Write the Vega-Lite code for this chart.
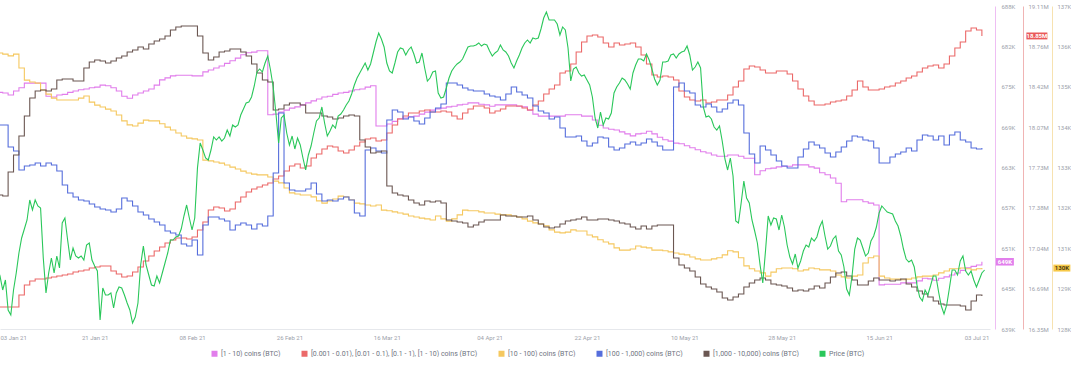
{
  "$schema": "https://vega.github.io/schema/vega-lite/v6.json",
  "width": 990,
  "height": 323,
  "padding": {"left": 0, "top": 3, "right": 0, "bottom": 0},
  "autosize": {"type": "pad"},
  "background": "#ffffff",
  "config": {
    "view": {"stroke": null},
    "font": "Roboto",
    "axis": {"labelFont": "Roboto", "labelColor": "#9da2ab", "labelFontSize": 6, "ticks": false, "grid": false, "labelOverlap": false}
  },
  "datasets": {
    "main": [
{"d":"2021-01-03","a":674.6,"b":16.536,"c":135.87,"e":13908,"f":2134},
{"d":"2021-01-04","a":674.5,"b":16.536,"c":135.84,"e":13908,"f":2133},
{"d":"2021-01-05","a":674.2,"b":16.536,"c":135.79,"e":13864,"f":2157},
{"d":"2021-01-06","a":674.8,"b":16.536,"c":135.84,"e":13856,"f":2174},
{"d":"2021-01-07","a":675.3,"b":16.639,"c":135.46,"e":13818,"f":2193},
{"d":"2021-01-08","a":676.0,"b":16.724,"c":135.13,"e":13826,"f":2213},
{"d":"2021-01-09","a":676.0,"b":16.758,"c":135.08,"e":13828,"f":2231},
{"d":"2021-01-10","a":676.0,"b":16.775,"c":135.05,"e":13832,"f":2238},
{"d":"2021-01-11","a":676.0,"b":16.775,"c":134.86,"e":13826,"f":2239},
{"d":"2021-01-12","a":674.0,"b":16.784,"c":134.75,"e":13832,"f":2238},
{"d":"2021-01-13","a":673.9,"b":16.792,"c":134.64,"e":13828,"f":2240},
{"d":"2021-01-14","a":674.2,"b":16.801,"c":134.59,"e":13816,"f":2249},
{"d":"2021-01-15","a":674.3,"b":16.809,"c":134.59,"e":13788,"f":2250},
{"d":"2021-01-16","a":674.6,"b":16.818,"c":134.59,"e":13772,"f":2250},
{"d":"2021-01-17","a":674.8,"b":16.835,"c":134.59,"e":13764,"f":2248},
{"d":"2021-01-18","a":675.0,"b":16.844,"c":134.64,"e":13758,"f":2248},
{"d":"2021-01-19","a":675.1,"b":16.852,"c":134.70,"e":13756,"f":2261},
{"d":"2021-01-20","a":675.3,"b":16.869,"c":134.53,"e":13750,"f":2267},
{"d":"2021-01-21","a":675.4,"b":16.878,"c":134.45,"e":13744,"f":2269},
{"d":"2021-01-22","a":675.7,"b":16.886,"c":134.40,"e":13740,"f":2268},
{"d":"2021-01-23","a":675.6,"b":16.886,"c":134.34,"e":13738,"f":2266},
{"d":"2021-01-24","a":675.3,"b":16.844,"c":134.29,"e":13734,"f":2268},
{"d":"2021-01-25","a":674.8,"b":16.818,"c":134.18,"e":13740,"f":2271},
{"d":"2021-01-26","a":674.0,"b":16.792,"c":134.02,"e":13762,"f":2273},
{"d":"2021-01-27","a":673.7,"b":16.801,"c":133.91,"e":13756,"f":2277},
{"d":"2021-01-28","a":674.2,"b":16.835,"c":133.88,"e":13746,"f":2279},
{"d":"2021-01-29","a":674.5,"b":16.878,"c":133.96,"e":13734,"f":2282},
{"d":"2021-01-30","a":674.8,"b":16.929,"c":134.04,"e":13728,"f":2280},
{"d":"2021-01-31","a":675.1,"b":16.972,"c":134.02,"e":13720,"f":2285},
{"d":"2021-02-01","a":675.7,"b":17.015,"c":134.02,"e":13714,"f":2288},
{"d":"2021-02-02","a":676.5,"b":17.049,"c":133.94,"e":13708,"f":2290},
{"d":"2021-02-03","a":676.8,"b":17.083,"c":133.85,"e":13696,"f":2293},
{"d":"2021-02-04","a":677.1,"b":17.109,"c":133.77,"e":13692,"f":2299},
{"d":"2021-02-05","a":677.2,"b":17.126,"c":133.69,"e":13688,"f":2302},
{"d":"2021-02-06","a":677.2,"b":17.126,"c":133.61,"e":13670,"f":2303},
{"d":"2021-02-07","a":677.2,"b":17.117,"c":133.55,"e":13666,"f":2303},
{"d":"2021-02-08","a":677.1,"b":17.134,"c":133.53,"e":13678,"f":2303},
{"d":"2021-02-09","a":677.1,"b":17.194,"c":133.50,"e":13648,"f":2293},
{"d":"2021-02-10","a":677.7,"b":17.262,"c":132.95,"e":13708,"f":2276},
{"d":"2021-02-11","a":678.0,"b":17.365,"c":132.93,"e":13724,"f":2269},
{"d":"2021-02-12","a":678.3,"b":17.391,"c":132.90,"e":13724,"f":2272},
{"d":"2021-02-13","a":678.6,"b":17.382,"c":132.87,"e":13720,"f":2277},
{"d":"2021-02-14","a":679.0,"b":17.356,"c":132.82,"e":13716,"f":2278},
{"d":"2021-02-15","a":679.4,"b":17.373,"c":132.76,"e":13698,"f":2280},
{"d":"2021-02-16","a":679.8,"b":17.433,"c":132.71,"e":13708,"f":2280},
{"d":"2021-02-17","a":680.3,"b":17.476,"c":132.65,"e":13712,"f":2277},
{"d":"2021-02-18","a":680.6,"b":17.519,"c":132.60,"e":13708,"f":2273},
{"d":"2021-02-19","a":680.7,"b":17.544,"c":132.57,"e":13700,"f":2265},
{"d":"2021-02-20","a":680.9,"b":17.561,"c":132.55,"e":13710,"f":2256},
{"d":"2021-02-21","a":680.9,"b":17.579,"c":132.55,"e":13706,"f":2249},
{"d":"2021-02-22","a":671.2,"b":17.596,"c":132.49,"e":13726,"f":2247},
{"d":"2021-02-23","a":671.3,"b":17.630,"c":132.38,"e":13812,"f":2219},
{"d":"2021-02-24","a":671.6,"b":17.655,"c":132.33,"e":13932,"f":2220},
{"d":"2021-02-25","a":671.9,"b":17.698,"c":132.19,"e":13792,"f":2224},
{"d":"2021-02-26","a":672.2,"b":17.741,"c":132.06,"e":13778,"f":2226},
{"d":"2021-02-27","a":672.4,"b":17.758,"c":132.03,"e":13776,"f":2226},
{"d":"2021-02-28","a":672.7,"b":17.724,"c":132.00,"e":13776,"f":2224},
{"d":"2021-03-01","a":673.0,"b":17.741,"c":132.00,"e":13780,"f":2216},
{"d":"2021-03-02","a":673.3,"b":17.809,"c":131.95,"e":13792,"f":2216},
{"d":"2021-03-03","a":673.6,"b":17.843,"c":131.84,"e":13770,"f":2216},
{"d":"2021-03-04","a":673.9,"b":17.886,"c":131.78,"e":13756,"f":2213},
{"d":"2021-03-05","a":674.0,"b":17.912,"c":131.84,"e":13758,"f":2212},
{"d":"2021-03-06","a":674.3,"b":17.903,"c":131.89,"e":13756,"f":2210},
{"d":"2021-03-07","a":674.5,"b":17.869,"c":131.97,"e":13760,"f":2211},
{"d":"2021-03-08","a":674.6,"b":17.852,"c":131.95,"e":13764,"f":2213},
{"d":"2021-03-09","a":674.8,"b":17.878,"c":131.87,"e":13758,"f":2214},
{"d":"2021-03-10","a":675.0,"b":17.912,"c":131.78,"e":13732,"f":2213},
{"d":"2021-03-11","a":675.1,"b":17.946,"c":131.76,"e":13726,"f":2189},
{"d":"2021-03-12","a":675.4,"b":17.972,"c":131.73,"e":13858,"f":2182},
{"d":"2021-03-13","a":675.6,"b":17.980,"c":131.70,"e":13862,"f":2176},
{"d":"2021-03-14","a":669.5,"b":17.955,"c":131.73,"e":13856,"f":2177},
{"d":"2021-03-15","a":669.5,"b":17.963,"c":131.59,"e":13852,"f":2178},
{"d":"2021-03-16","a":669.8,"b":18.023,"c":131.57,"e":13918,"f":2143},
{"d":"2021-03-17","a":670.2,"b":18.091,"c":131.54,"e":13938,"f":2136},
{"d":"2021-03-18","a":670.6,"b":18.142,"c":131.51,"e":13934,"f":2134},
{"d":"2021-03-19","a":670.7,"b":18.168,"c":131.48,"e":13920,"f":2133},
{"d":"2021-03-20","a":670.9,"b":18.194,"c":131.43,"e":13924,"f":2129},
{"d":"2021-03-21","a":671.0,"b":18.194,"c":131.40,"e":13916,"f":2126},
{"d":"2021-03-22","a":671.3,"b":18.211,"c":131.37,"e":13910,"f":2124},
{"d":"2021-03-23","a":671.6,"b":18.219,"c":131.35,"e":13922,"f":2128},
{"d":"2021-03-24","a":671.9,"b":18.202,"c":131.32,"e":13934,"f":2127},
{"d":"2021-03-25","a":672.1,"b":18.202,"c":131.43,"e":13942,"f":2128},
{"d":"2021-03-26","a":672.2,"b":18.211,"c":131.35,"e":13950,"f":2126},
{"d":"2021-03-27","a":672.4,"b":18.202,"c":131.29,"e":13992,"f":2109},
{"d":"2021-03-28","a":672.5,"b":18.168,"c":131.35,"e":13992,"f":2108},
{"d":"2021-03-29","a":672.7,"b":18.142,"c":131.46,"e":13988,"f":2107},
{"d":"2021-03-30","a":672.8,"b":18.194,"c":131.59,"e":13982,"f":2106},
{"d":"2021-03-31","a":673.0,"b":18.228,"c":131.57,"e":13978,"f":2102},
{"d":"2021-04-01","a":673.0,"b":18.254,"c":131.57,"e":13976,"f":2104},
{"d":"2021-04-02","a":672.8,"b":18.254,"c":131.54,"e":13976,"f":2107},
{"d":"2021-04-03","a":672.7,"b":18.236,"c":131.51,"e":13970,"f":2109},
{"d":"2021-04-04","a":672.5,"b":18.194,"c":131.51,"e":13966,"f":2109},
{"d":"2021-04-05","a":672.7,"b":18.211,"c":131.48,"e":13964,"f":2109},
{"d":"2021-04-06","a":672.7,"b":18.228,"c":131.46,"e":13958,"f":2114},
{"d":"2021-04-07","a":672.7,"b":18.254,"c":131.46,"e":13970,"f":2113},
{"d":"2021-04-08","a":672.7,"b":18.254,"c":131.43,"e":13984,"f":2113},
{"d":"2021-04-09","a":672.5,"b":18.254,"c":131.40,"e":13974,"f":2112},
{"d":"2021-04-10","a":672.4,"b":18.236,"c":131.35,"e":13968,"f":2112},
{"d":"2021-04-11","a":671.9,"b":18.219,"c":131.29,"e":13962,"f":2113},
{"d":"2021-04-12","a":671.3,"b":18.262,"c":131.24,"e":13946,"f":2109},
{"d":"2021-04-13","a":671.0,"b":18.296,"c":131.21,"e":13936,"f":2105},
{"d":"2021-04-14","a":671.0,"b":18.356,"c":131.16,"e":13932,"f":2102},
{"d":"2021-04-15","a":671.0,"b":18.399,"c":131.05,"e":13920,"f":2101},
{"d":"2021-04-16","a":671.0,"b":18.433,"c":130.99,"e":13924,"f":2102},
{"d":"2021-04-17","a":671.0,"b":18.536,"c":130.97,"e":13902,"f":2105},
{"d":"2021-04-18","a":671.2,"b":18.553,"c":130.99,"e":13884,"f":2108},
{"d":"2021-04-19","a":671.2,"b":18.612,"c":131.05,"e":13884,"f":2109},
{"d":"2021-04-20","a":671.2,"b":18.715,"c":131.02,"e":13886,"f":2110},
{"d":"2021-04-21","a":671.0,"b":18.800,"c":131.02,"e":13876,"f":2112},
{"d":"2021-04-22","a":671.0,"b":18.852,"c":130.91,"e":13866,"f":2109},
{"d":"2021-04-23","a":670.4,"b":18.860,"c":130.86,"e":13872,"f":2109},
{"d":"2021-04-24","a":669.6,"b":18.843,"c":130.78,"e":13884,"f":2110},
{"d":"2021-04-25","a":669.2,"b":18.792,"c":130.72,"e":13882,"f":2110},
{"d":"2021-04-26","a":669.0,"b":18.758,"c":130.67,"e":13864,"f":2109},
{"d":"2021-04-27","a":668.9,"b":18.792,"c":130.56,"e":13858,"f":2108},
{"d":"2021-04-28","a":668.6,"b":18.775,"c":130.50,"e":13862,"f":2106},
{"d":"2021-04-29","a":668.3,"b":18.783,"c":130.50,"e":13870,"f":2105},
{"d":"2021-04-30","a":668.0,"b":18.792,"c":130.53,"e":13874,"f":2102},
{"d":"2021-05-01","a":668.3,"b":18.758,"c":130.61,"e":13868,"f":2100},
{"d":"2021-05-02","a":668.4,"b":18.689,"c":130.58,"e":13872,"f":2103},
{"d":"2021-05-03","a":668.7,"b":18.612,"c":130.56,"e":13880,"f":2100},
{"d":"2021-05-04","a":668.3,"b":18.518,"c":130.50,"e":13874,"f":2103},
{"d":"2021-05-05","a":667.8,"b":18.501,"c":130.50,"e":13866,"f":2104},
{"d":"2021-05-06","a":667.4,"b":18.510,"c":130.48,"e":13858,"f":2104},
{"d":"2021-05-07","a":667.2,"b":18.501,"c":130.45,"e":13858,"f":2104},
{"d":"2021-05-08","a":666.9,"b":18.476,"c":130.42,"e":13984,"f":2071},
{"d":"2021-05-09","a":666.8,"b":18.382,"c":130.39,"e":13992,"f":2064},
{"d":"2021-05-10","a":666.5,"b":18.330,"c":130.37,"e":13976,"f":2061},
{"d":"2021-05-11","a":666.2,"b":18.305,"c":130.31,"e":13972,"f":2058},
{"d":"2021-05-12","a":665.9,"b":18.296,"c":130.26,"e":13948,"f":2052},
{"d":"2021-05-13","a":665.6,"b":18.305,"c":130.23,"e":13944,"f":2045},
{"d":"2021-05-14","a":665.4,"b":18.279,"c":130.23,"e":13950,"f":2042},
{"d":"2021-05-15","a":665.1,"b":18.288,"c":130.26,"e":13944,"f":2040},
{"d":"2021-05-16","a":664.9,"b":18.305,"c":130.29,"e":13934,"f":2037},
{"d":"2021-05-17","a":664.9,"b":18.305,"c":130.37,"e":13940,"f":2031},
{"d":"2021-05-18","a":665.1,"b":18.348,"c":130.48,"e":13952,"f":2029},
{"d":"2021-05-19","a":665.1,"b":18.416,"c":130.45,"e":13958,"f":2032},
{"d":"2021-05-20","a":664.9,"b":18.467,"c":130.29,"e":13948,"f":2035},
{"d":"2021-05-21","a":664.6,"b":18.570,"c":130.07,"e":13892,"f":2042},
{"d":"2021-05-22","a":664.6,"b":18.595,"c":129.99,"e":13850,"f":2046},
{"d":"2021-05-23","a":662.1,"b":18.587,"c":129.93,"e":13832,"f":2049},
{"d":"2021-05-24","a":662.7,"b":18.561,"c":129.88,"e":13866,"f":2051},
{"d":"2021-05-25","a":663.0,"b":18.536,"c":129.79,"e":13858,"f":2049},
{"d":"2021-05-26","a":663.1,"b":18.536,"c":129.90,"e":13848,"f":2045},
{"d":"2021-05-27","a":663.3,"b":18.553,"c":129.99,"e":13836,"f":2044},
{"d":"2021-05-28","a":663.4,"b":18.553,"c":130.01,"e":13826,"f":2043},
{"d":"2021-05-29","a":663.4,"b":18.527,"c":130.01,"e":13822,"f":2041},
{"d":"2021-05-30","a":663.6,"b":18.467,"c":129.99,"e":13822,"f":2038},
{"d":"2021-05-31","a":663.6,"b":18.399,"c":129.93,"e":13844,"f":2039},
{"d":"2021-06-01","a":663.6,"b":18.339,"c":129.96,"e":13860,"f":2038},
{"d":"2021-06-02","a":663.3,"b":18.296,"c":130.01,"e":13874,"f":2040},
{"d":"2021-06-03","a":663.1,"b":18.262,"c":129.99,"e":13868,"f":2043},
{"d":"2021-06-04","a":662.4,"b":18.262,"c":129.96,"e":13862,"f":2041},
{"d":"2021-06-05","a":662.1,"b":18.271,"c":129.96,"e":13852,"f":2046},
{"d":"2021-06-06","a":661.6,"b":18.288,"c":129.93,"e":13844,"f":2052},
{"d":"2021-06-07","a":660.8,"b":18.296,"c":129.82,"e":13854,"f":2056},
{"d":"2021-06-08","a":658.0,"b":18.305,"c":129.77,"e":13864,"f":2057},
{"d":"2021-06-09","a":658.3,"b":18.339,"c":129.74,"e":13876,"f":2053},
{"d":"2021-06-10","a":658.3,"b":18.390,"c":129.79,"e":13886,"f":2049},
{"d":"2021-06-11","a":658.3,"b":18.467,"c":129.82,"e":13884,"f":2044},
{"d":"2021-06-12","a":658.0,"b":18.416,"c":130.15,"e":13878,"f":2044},
{"d":"2021-06-13","a":657.8,"b":18.390,"c":130.29,"e":13876,"f":2048},
{"d":"2021-06-14","a":657.5,"b":18.390,"c":130.34,"e":13862,"f":2051},
{"d":"2021-06-15","a":645.4,"b":18.399,"c":129.79,"e":13832,"f":2049},
{"d":"2021-06-16","a":645.5,"b":18.416,"c":129.74,"e":13832,"f":2049},
{"d":"2021-06-17","a":645.5,"b":18.424,"c":129.71,"e":13844,"f":2048},
{"d":"2021-06-18","a":645.5,"b":18.450,"c":129.71,"e":13850,"f":2049},
{"d":"2021-06-19","a":645.7,"b":18.467,"c":129.69,"e":13854,"f":2050},
{"d":"2021-06-20","a":645.7,"b":18.493,"c":129.71,"e":13862,"f":2045},
{"d":"2021-06-21","a":645.7,"b":18.510,"c":129.74,"e":13856,"f":2042},
{"d":"2021-06-22","a":646.0,"b":18.544,"c":129.77,"e":13878,"f":2038},
{"d":"2021-06-23","a":646.4,"b":18.578,"c":129.79,"e":13888,"f":2035},
{"d":"2021-06-24","a":646.3,"b":18.595,"c":129.79,"e":13886,"f":2032},
{"d":"2021-06-25","a":646.1,"b":18.604,"c":129.82,"e":13878,"f":2028},
{"d":"2021-06-26","a":646.4,"b":18.578,"c":129.88,"e":13886,"f":2025},
{"d":"2021-06-27","a":646.6,"b":18.612,"c":129.93,"e":13868,"f":2024},
{"d":"2021-06-28","a":646.9,"b":18.681,"c":129.99,"e":13888,"f":2024},
{"d":"2021-06-29","a":647.2,"b":18.749,"c":129.99,"e":13894,"f":2024},
{"d":"2021-06-30","a":647.6,"b":18.800,"c":130.01,"e":13878,"f":2023},
{"d":"2021-07-01","a":648.0,"b":18.894,"c":129.99,"e":13874,"f":2019},
{"d":"2021-07-02","a":648.2,"b":18.920,"c":129.96,"e":13862,"f":2028},
{"d":"2021-07-03","a":648.4,"b":18.903,"c":129.99,"e":13860,"f":2034},
{"d":"2021-07-04","a":648.9,"b":18.852,"c":130.01,"e":13862,"f":2033}
    ],
    "price": [
{"d":"2021-01-03T00:00:00Z","p":34710},{"d":"2021-01-03T12:00:00Z","p":33830},
{"d":"2021-01-04T00:00:00Z","p":32290},{"d":"2021-01-04T12:00:00Z","p":33390},
{"d":"2021-01-05T00:00:00Z","p":30090},{"d":"2021-01-05T12:00:00Z","p":29540},
{"d":"2021-01-06T00:00:00Z","p":32290},{"d":"2021-01-06T12:00:00Z","p":34160},
{"d":"2021-01-07T00:00:00Z","p":36360},{"d":"2021-01-07T12:00:00Z","p":38010},
{"d":"2021-01-08T00:00:00Z","p":39000},{"d":"2021-01-08T12:00:00Z","p":39990},
{"d":"2021-01-09T00:00:00Z","p":42190},{"d":"2021-01-09T12:00:00Z","p":41090},
{"d":"2021-01-10T00:00:00Z","p":42190},{"d":"2021-01-10T12:00:00Z","p":41530},
{"d":"2021-01-11T00:00:00Z","p":41310},{"d":"2021-01-11T12:00:00Z","p":35810},
{"d":"2021-01-12T00:00:00Z","p":31960},{"d":"2021-01-12T12:00:00Z","p":34160},
{"d":"2021-01-13T00:00:00Z","p":35810},{"d":"2021-01-13T12:00:00Z","p":34160},
{"d":"2021-01-14T00:00:00Z","p":36030},{"d":"2021-01-14T12:00:00Z","p":34710},
{"d":"2021-01-15T00:00:00Z","p":39660},{"d":"2021-01-15T12:00:00Z","p":40210},
{"d":"2021-01-16T00:00:00Z","p":37790},{"d":"2021-01-16T12:00:00Z","p":35590},
{"d":"2021-01-17T00:00:00Z","p":36910},{"d":"2021-01-17T12:00:00Z","p":36030},
{"d":"2021-01-18T00:00:00Z","p":35810},{"d":"2021-01-18T12:00:00Z","p":36030},
{"d":"2021-01-19T00:00:00Z","p":35590},{"d":"2021-01-19T12:00:00Z","p":37240},
{"d":"2021-01-20T00:00:00Z","p":37460},{"d":"2021-01-20T12:00:00Z","p":35590},
{"d":"2021-01-21T00:00:00Z","p":34930},{"d":"2021-01-21T12:00:00Z","p":34380},
{"d":"2021-01-22T00:00:00Z","p":28990},{"d":"2021-01-22T12:00:00Z","p":32510},
{"d":"2021-01-23T00:00:00Z","p":31740},{"d":"2021-01-23T12:00:00Z","p":31740},
{"d":"2021-01-24T00:00:00Z","p":31960},{"d":"2021-01-24T12:00:00Z","p":30310},
{"d":"2021-01-25T00:00:00Z","p":31960},{"d":"2021-01-25T12:00:00Z","p":32620},
{"d":"2021-01-26T00:00:00Z","p":32510},{"d":"2021-01-26T12:00:00Z","p":31740},
{"d":"2021-01-27T00:00:00Z","p":30860},{"d":"2021-01-27T12:00:00Z","p":30090},
{"d":"2021-01-28T00:00:00Z","p":28660},{"d":"2021-01-28T12:00:00Z","p":29320},
{"d":"2021-01-29T00:00:00Z","p":30860},{"d":"2021-01-29T12:00:00Z","p":35040},
{"d":"2021-01-30T00:00:00Z","p":37130},{"d":"2021-01-30T12:00:00Z","p":35040},
{"d":"2021-01-31T00:00:00Z","p":33940},{"d":"2021-01-31T12:00:00Z","p":32840},
{"d":"2021-02-01T00:00:00Z","p":32730},{"d":"2021-02-01T12:00:00Z","p":33830},
{"d":"2021-02-02T00:00:00Z","p":33060},{"d":"2021-02-02T12:00:00Z","p":34160},
{"d":"2021-02-03T00:00:00Z","p":35260},{"d":"2021-02-03T12:00:00Z","p":36360},
{"d":"2021-02-04T00:00:00Z","p":37790},{"d":"2021-02-04T12:00:00Z","p":37790},
{"d":"2021-02-05T00:00:00Z","p":38120},{"d":"2021-02-05T12:00:00Z","p":38230},
{"d":"2021-02-06T00:00:00Z","p":39000},{"d":"2021-02-06T12:00:00Z","p":40430},
{"d":"2021-02-07T00:00:00Z","p":41640},{"d":"2021-02-07T12:00:00Z","p":40210},
{"d":"2021-02-08T00:00:00Z","p":38890},{"d":"2021-02-08T12:00:00Z","p":40210},
{"d":"2021-02-09T00:00:00Z","p":45710},{"d":"2021-02-09T12:00:00Z","p":48460},
{"d":"2021-02-10T00:00:00Z","p":47690},{"d":"2021-02-10T12:00:00Z","p":46810},
{"d":"2021-02-11T00:00:00Z","p":46590},{"d":"2021-02-11T12:00:00Z","p":47690},
{"d":"2021-02-12T00:00:00Z","p":49120},{"d":"2021-02-12T12:00:00Z","p":48790},
{"d":"2021-02-13T00:00:00Z","p":49120},{"d":"2021-02-13T12:00:00Z","p":48680},
{"d":"2021-02-14T00:00:00Z","p":49010},{"d":"2021-02-14T12:00:00Z","p":49890},
{"d":"2021-02-15T00:00:00Z","p":49230},{"d":"2021-02-15T12:00:00Z","p":50440},
{"d":"2021-02-16T00:00:00Z","p":50220},{"d":"2021-02-16T12:00:00Z","p":50440},
{"d":"2021-02-17T00:00:00Z","p":51540},{"d":"2021-02-17T12:00:00Z","p":52200},
{"d":"2021-02-18T00:00:00Z","p":52860},{"d":"2021-02-18T12:00:00Z","p":52970},
{"d":"2021-02-19T00:00:00Z","p":53520},{"d":"2021-02-19T12:00:00Z","p":54730},
{"d":"2021-02-20T00:00:00Z","p":56270},{"d":"2021-02-20T12:00:00Z","p":56600},
{"d":"2021-02-21T00:00:00Z","p":56270},{"d":"2021-02-21T12:00:00Z","p":57260},
{"d":"2021-02-22T00:00:00Z","p":58030},{"d":"2021-02-22T12:00:00Z","p":56490},
{"d":"2021-02-23T00:00:00Z","p":54620},{"d":"2021-02-23T12:00:00Z","p":51760},
{"d":"2021-02-24T00:00:00Z","p":48460},{"d":"2021-02-24T12:00:00Z","p":51210},
{"d":"2021-02-25T00:00:00Z","p":51540},{"d":"2021-02-25T12:00:00Z","p":49560},
{"d":"2021-02-26T00:00:00Z","p":48240},{"d":"2021-02-26T12:00:00Z","p":49230},
{"d":"2021-02-27T00:00:00Z","p":47800},{"d":"2021-02-27T12:00:00Z","p":49010},
{"d":"2021-02-28T00:00:00Z","p":48240},{"d":"2021-02-28T12:00:00Z","p":46810},
{"d":"2021-03-01T00:00:00Z","p":45490},{"d":"2021-03-01T12:00:00Z","p":47140},
{"d":"2021-03-02T00:00:00Z","p":48130},{"d":"2021-03-02T12:00:00Z","p":49560},
{"d":"2021-03-03T00:00:00Z","p":50880},{"d":"2021-03-03T12:00:00Z","p":51210},
{"d":"2021-03-04T00:00:00Z","p":52420},{"d":"2021-03-04T12:00:00Z","p":50660},
{"d":"2021-03-05T00:00:00Z","p":49230},{"d":"2021-03-05T12:00:00Z","p":49780},
{"d":"2021-03-06T00:00:00Z","p":50440},{"d":"2021-03-06T12:00:00Z","p":50110},
{"d":"2021-03-07T00:00:00Z","p":51430},{"d":"2021-03-07T12:00:00Z","p":51650},
{"d":"2021-03-08T00:00:00Z","p":52090},{"d":"2021-03-08T12:00:00Z","p":52640},
{"d":"2021-03-09T00:00:00Z","p":53080},{"d":"2021-03-09T12:00:00Z","p":53850},
{"d":"2021-03-10T00:00:00Z","p":54840},{"d":"2021-03-10T12:00:00Z","p":55610},
{"d":"2021-03-11T00:00:00Z","p":56160},{"d":"2021-03-11T12:00:00Z","p":56710},
{"d":"2021-03-12T00:00:00Z","p":57260},{"d":"2021-03-12T12:00:00Z","p":56490},
{"d":"2021-03-13T00:00:00Z","p":57150},{"d":"2021-03-13T12:00:00Z","p":58360},
{"d":"2021-03-14T00:00:00Z","p":59570},{"d":"2021-03-14T12:00:00Z","p":60560},
{"d":"2021-03-15T00:00:00Z","p":59900},{"d":"2021-03-15T12:00:00Z","p":59020},
{"d":"2021-03-16T00:00:00Z","p":57260},{"d":"2021-03-16T12:00:00Z","p":56380},
{"d":"2021-03-17T00:00:00Z","p":56160},{"d":"2021-03-17T12:00:00Z","p":57260},
{"d":"2021-03-18T00:00:00Z","p":58470},{"d":"2021-03-18T12:00:00Z","p":58910},
{"d":"2021-03-19T00:00:00Z","p":58800},{"d":"2021-03-19T12:00:00Z","p":58140},
{"d":"2021-03-20T00:00:00Z","p":58690},{"d":"2021-03-20T12:00:00Z","p":59020},
{"d":"2021-03-21T00:00:00Z","p":58250},{"d":"2021-03-21T12:00:00Z","p":57260},
{"d":"2021-03-22T00:00:00Z","p":57370},{"d":"2021-03-22T12:00:00Z","p":58360},
{"d":"2021-03-23T00:00:00Z","p":56710},{"d":"2021-03-23T12:00:00Z","p":55280},
{"d":"2021-03-24T00:00:00Z","p":55610},{"d":"2021-03-24T12:00:00Z","p":56270},
{"d":"2021-03-25T00:00:00Z","p":56380},{"d":"2021-03-25T12:00:00Z","p":53960},
{"d":"2021-03-26T00:00:00Z","p":53410},{"d":"2021-03-26T12:00:00Z","p":53520},
{"d":"2021-03-27T00:00:00Z","p":54510},{"d":"2021-03-27T12:00:00Z","p":55610},
{"d":"2021-03-28T00:00:00Z","p":56380},{"d":"2021-03-28T12:00:00Z","p":56820},
{"d":"2021-03-29T00:00:00Z","p":57150},{"d":"2021-03-29T12:00:00Z","p":57370},
{"d":"2021-03-30T00:00:00Z","p":57700},{"d":"2021-03-30T12:00:00Z","p":58360},
{"d":"2021-03-31T00:00:00Z","p":59020},{"d":"2021-03-31T12:00:00Z","p":59130},
{"d":"2021-04-01T00:00:00Z","p":59130},{"d":"2021-04-01T12:00:00Z","p":59240},
{"d":"2021-04-02T00:00:00Z","p":59460},{"d":"2021-04-02T12:00:00Z","p":59130},
{"d":"2021-04-03T00:00:00Z","p":59350},{"d":"2021-04-03T12:00:00Z","p":59240},
{"d":"2021-04-04T00:00:00Z","p":58580},{"d":"2021-04-04T12:00:00Z","p":58030},
{"d":"2021-04-05T00:00:00Z","p":58360},{"d":"2021-04-05T12:00:00Z","p":58580},
{"d":"2021-04-06T00:00:00Z","p":59240},{"d":"2021-04-06T12:00:00Z","p":58690},
{"d":"2021-04-07T00:00:00Z","p":58470},{"d":"2021-04-07T12:00:00Z","p":58030},
{"d":"2021-04-08T00:00:00Z","p":57260},{"d":"2021-04-08T12:00:00Z","p":56710},
{"d":"2021-04-09T00:00:00Z","p":57480},{"d":"2021-04-09T12:00:00Z","p":58140},
{"d":"2021-04-10T00:00:00Z","p":58910},{"d":"2021-04-10T12:00:00Z","p":59460},
{"d":"2021-04-11T00:00:00Z","p":59790},{"d":"2021-04-11T12:00:00Z","p":59460},
{"d":"2021-04-12T00:00:00Z","p":60010},{"d":"2021-04-12T12:00:00Z","p":59900},
{"d":"2021-04-13T00:00:00Z","p":60010},{"d":"2021-04-13T12:00:00Z","p":61000},
{"d":"2021-04-14T00:00:00Z","p":62210},{"d":"2021-04-14T12:00:00Z","p":62870},
{"d":"2021-04-15T00:00:00Z","p":61990},{"d":"2021-04-15T12:00:00Z","p":61990},
{"d":"2021-04-16T00:00:00Z","p":61990},{"d":"2021-04-16T12:00:00Z","p":61550},
{"d":"2021-04-17T00:00:00Z","p":60340},{"d":"2021-04-17T12:00:00Z","p":61220},
{"d":"2021-04-18T00:00:00Z","p":60890},{"d":"2021-04-18T12:00:00Z","p":58910},
{"d":"2021-04-19T00:00:00Z","p":55280},{"d":"2021-04-19T12:00:00Z","p":56600},
{"d":"2021-04-20T00:00:00Z","p":56820},{"d":"2021-04-20T12:00:00Z","p":56160},
{"d":"2021-04-21T00:00:00Z","p":55830},{"d":"2021-04-21T12:00:00Z","p":55940},
{"d":"2021-04-22T00:00:00Z","p":55390},{"d":"2021-04-22T12:00:00Z","p":54840},
{"d":"2021-04-23T00:00:00Z","p":53520},{"d":"2021-04-23T12:00:00Z","p":51210},
{"d":"2021-04-24T00:00:00Z","p":50110},{"d":"2021-04-24T12:00:00Z","p":51870},
{"d":"2021-04-25T00:00:00Z","p":50440},{"d":"2021-04-25T12:00:00Z","p":51210},
{"d":"2021-04-26T00:00:00Z","p":51100},{"d":"2021-04-26T12:00:00Z","p":51760},
{"d":"2021-04-27T00:00:00Z","p":53960},{"d":"2021-04-27T12:00:00Z","p":54620},
{"d":"2021-04-28T00:00:00Z","p":55060},{"d":"2021-04-28T12:00:00Z","p":55610},
{"d":"2021-04-29T00:00:00Z","p":55390},{"d":"2021-04-29T12:00:00Z","p":54950},
{"d":"2021-04-30T00:00:00Z","p":54400},{"d":"2021-04-30T12:00:00Z","p":56160},
{"d":"2021-05-01T00:00:00Z","p":57040},{"d":"2021-05-01T12:00:00Z","p":57700},
{"d":"2021-05-02T00:00:00Z","p":57700},{"d":"2021-05-02T12:00:00Z","p":57480},
{"d":"2021-05-03T00:00:00Z","p":58250},{"d":"2021-05-03T12:00:00Z","p":57590},
{"d":"2021-05-04T00:00:00Z","p":56600},{"d":"2021-05-04T12:00:00Z","p":55500},
{"d":"2021-05-05T00:00:00Z","p":54840},{"d":"2021-05-05T12:00:00Z","p":55390},
{"d":"2021-05-06T00:00:00Z","p":57370},{"d":"2021-05-06T12:00:00Z","p":57370},
{"d":"2021-05-07T00:00:00Z","p":57480},{"d":"2021-05-07T12:00:00Z","p":58140},
{"d":"2021-05-08T00:00:00Z","p":58250},{"d":"2021-05-08T12:00:00Z","p":57810},
{"d":"2021-05-09T00:00:00Z","p":58250},{"d":"2021-05-09T12:00:00Z","p":58470},
{"d":"2021-05-10T00:00:00Z","p":58580},{"d":"2021-05-10T12:00:00Z","p":59130},
{"d":"2021-05-11T00:00:00Z","p":58140},{"d":"2021-05-11T12:00:00Z","p":56490},
{"d":"2021-05-12T00:00:00Z","p":56820},{"d":"2021-05-12T12:00:00Z","p":57370},
{"d":"2021-05-13T00:00:00Z","p":56710},{"d":"2021-05-13T12:00:00Z","p":52420},
{"d":"2021-05-14T00:00:00Z","p":51320},{"d":"2021-05-14T12:00:00Z","p":51430},
{"d":"2021-05-15T00:00:00Z","p":51100},{"d":"2021-05-15T12:00:00Z","p":50220},
{"d":"2021-05-16T00:00:00Z","p":49890},{"d":"2021-05-16T12:00:00Z","p":50330},
{"d":"2021-05-17T00:00:00Z","p":48680},{"d":"2021-05-17T12:00:00Z","p":46700},
{"d":"2021-05-18T00:00:00Z","p":45490},{"d":"2021-05-18T12:00:00Z","p":46810},
{"d":"2021-05-19T00:00:00Z","p":44830},{"d":"2021-05-19T12:00:00Z","p":39880},
{"d":"2021-05-20T00:00:00Z","p":39660},{"d":"2021-05-20T12:00:00Z","p":41860},
{"d":"2021-05-21T00:00:00Z","p":44280},{"d":"2021-05-21T12:00:00Z","p":42410},
{"d":"2021-05-22T00:00:00Z","p":41860},{"d":"2021-05-22T12:00:00Z","p":39990},
{"d":"2021-05-23T00:00:00Z","p":38780},{"d":"2021-05-23T12:00:00Z","p":37460},
{"d":"2021-05-24T00:00:00Z","p":35040},{"d":"2021-05-24T12:00:00Z","p":33060},
{"d":"2021-05-25T00:00:00Z","p":36580},{"d":"2021-05-25T12:00:00Z","p":40430},
{"d":"2021-05-26T00:00:00Z","p":39440},{"d":"2021-05-26T12:00:00Z","p":40210},
{"d":"2021-05-27T00:00:00Z","p":40100},{"d":"2021-05-27T12:00:00Z","p":38890},
{"d":"2021-05-28T00:00:00Z","p":40540},{"d":"2021-05-28T12:00:00Z","p":39220},
{"d":"2021-05-29T00:00:00Z","p":37240},{"d":"2021-05-29T12:00:00Z","p":35920},
{"d":"2021-05-30T00:00:00Z","p":35150},{"d":"2021-05-30T12:00:00Z","p":36250},
{"d":"2021-05-31T00:00:00Z","p":34710},{"d":"2021-05-31T12:00:00Z","p":35480},
{"d":"2021-06-01T00:00:00Z","p":36580},{"d":"2021-06-01T12:00:00Z","p":37240},
{"d":"2021-06-02T00:00:00Z","p":37020},{"d":"2021-06-02T12:00:00Z","p":38010},
{"d":"2021-06-03T00:00:00Z","p":37680},{"d":"2021-06-03T12:00:00Z","p":38120},
{"d":"2021-06-04T00:00:00Z","p":39220},{"d":"2021-06-04T12:00:00Z","p":39880},
{"d":"2021-06-05T00:00:00Z","p":38230},{"d":"2021-06-05T12:00:00Z","p":36800},
{"d":"2021-06-06T00:00:00Z","p":37130},{"d":"2021-06-06T12:00:00Z","p":37900},
{"d":"2021-06-07T00:00:00Z","p":38230},{"d":"2021-06-07T12:00:00Z","p":36580},
{"d":"2021-06-08T00:00:00Z","p":36140},{"d":"2021-06-08T12:00:00Z","p":34820},
{"d":"2021-06-09T00:00:00Z","p":32400},{"d":"2021-06-09T12:00:00Z","p":31740},
{"d":"2021-06-10T00:00:00Z","p":33830},{"d":"2021-06-10T12:00:00Z","p":36800},
{"d":"2021-06-11T00:00:00Z","p":38010},{"d":"2021-06-11T12:00:00Z","p":37790},
{"d":"2021-06-12T00:00:00Z","p":36910},{"d":"2021-06-12T12:00:00Z","p":36030},
{"d":"2021-06-13T00:00:00Z","p":36360},{"d":"2021-06-13T12:00:00Z","p":37680},
{"d":"2021-06-14T00:00:00Z","p":38230},{"d":"2021-06-14T12:00:00Z","p":39220},
{"d":"2021-06-15T00:00:00Z","p":40760},{"d":"2021-06-15T12:00:00Z","p":41530},
{"d":"2021-06-16T00:00:00Z","p":41200},{"d":"2021-06-16T12:00:00Z","p":40870},
{"d":"2021-06-17T00:00:00Z","p":40760},{"d":"2021-06-17T12:00:00Z","p":40650},
{"d":"2021-06-18T00:00:00Z","p":39880},{"d":"2021-06-18T12:00:00Z","p":39330},
{"d":"2021-06-19T00:00:00Z","p":38230},{"d":"2021-06-19T12:00:00Z","p":36800},
{"d":"2021-06-20T00:00:00Z","p":35700},{"d":"2021-06-20T12:00:00Z","p":35370},
{"d":"2021-06-21T00:00:00Z","p":35590},{"d":"2021-06-21T12:00:00Z","p":34820},
{"d":"2021-06-22T00:00:00Z","p":32840},{"d":"2021-06-22T12:00:00Z","p":31520},
{"d":"2021-06-23T00:00:00Z","p":31080},{"d":"2021-06-23T12:00:00Z","p":32290},
{"d":"2021-06-24T00:00:00Z","p":31740},{"d":"2021-06-24T12:00:00Z","p":32730},
{"d":"2021-06-25T00:00:00Z","p":33830},{"d":"2021-06-25T12:00:00Z","p":33830},
{"d":"2021-06-26T00:00:00Z","p":32070},{"d":"2021-06-26T12:00:00Z","p":30530},
{"d":"2021-06-27T00:00:00Z","p":29650},{"d":"2021-06-27T12:00:00Z","p":30640},
{"d":"2021-06-28T00:00:00Z","p":32510},{"d":"2021-06-28T12:00:00Z","p":34490},
{"d":"2021-06-29T00:00:00Z","p":34490},{"d":"2021-06-29T12:00:00Z","p":33940},
{"d":"2021-06-30T00:00:00Z","p":35480},{"d":"2021-06-30T12:00:00Z","p":36030},
{"d":"2021-07-01T00:00:00Z","p":34380},{"d":"2021-07-01T12:00:00Z","p":33940},
{"d":"2021-07-02T00:00:00Z","p":34380},{"d":"2021-07-02T12:00:00Z","p":33390},
{"d":"2021-07-03T00:00:00Z","p":32620},{"d":"2021-07-03T12:00:00Z","p":33390},
{"d":"2021-07-04T00:00:00Z","p":34160},{"d":"2021-07-04T12:00:00Z","p":34490}
    ]
  },
  "data": {"name": "main"},
  "encoding": {
    "x": {
      "field": "d", "type": "temporal", "title": null,
      "scale": {"type": "utc", "domain": [{"year": 2021, "month": 1, "date": 3, "hours": 12, "utc": true}, {"year": 2021, "month": 7, "date": 5, "hours": 12, "utc": true}]},
      "axis": {
        "values": [
          {"year": 2021, "month": 1, "date": 3, "hours": 12, "utc": true},
          {"year": 2021, "month": 1, "date": 21, "utc": true},
          {"year": 2021, "month": 2, "date": 8, "utc": true},
          {"year": 2021, "month": 2, "date": 26, "utc": true},
          {"year": 2021, "month": 3, "date": 16, "utc": true},
          {"year": 2021, "month": 4, "date": 4, "utc": true},
          {"year": 2021, "month": 4, "date": 22, "utc": true},
          {"year": 2021, "month": 5, "date": 10, "utc": true},
          {"year": 2021, "month": 5, "date": 28, "utc": true},
          {"year": 2021, "month": 6, "date": 15, "utc": true},
          {"year": 2021, "month": 7, "date": 3, "utc": true}
        ],
        "labelExpr": "utcFormat(datum.value, '%d %b %y')",
        "labelFlush": 5,
        "labelPadding": 5,
        "domainColor": "#e6e8ec"
      }
    }
  },
  "layer": [
    {
      "layer": [
        {
          "mark": {"type": "line", "interpolate": "step-after", "strokeWidth": 1.1, "clip": true},
          "encoding": {
            "y": {"field": "a", "type": "quantitative", "title": null,
              "scale": {"domain": [638.7, 687.7], "nice": false, "zero": false},
              "axis": {"orient": "right", "offset": 5, "values": [638.7, 644.825, 650.95, 657.075, 663.2, 669.325, 675.45, 681.575, 687.7], "labelExpr": "format(datum.value, '.0f') + 'K'", "domainColor": "#eebef3", "labelPadding": 6}},
            "color": {
              "datum": "[1 - 10) coins (BTC)",
              "scale": {
                "domain": ["[1 - 10) coins (BTC)", "[0.001 - 0.01), [0.01 - 0.1), [0.1 - 1), [1 - 10) coins (BTC)", "[10 - 100) coins (BTC)", "[100 - 1,000) coins (BTC)", "[1,000 - 10,000) coins (BTC)", "Price (BTC)"],
                "range": ["#e17deb", "#eb6969", "#f5c85f", "#566edc", "#6b5752", "#2ac75a"]
              },
              "legend": {
                "orient": "none", "legendX": 211, "legendY": 344, "direction": "horizontal", "title": null,
                "symbolType": "square", "symbolSize": 36, "symbolStrokeWidth": 0,
                "labelFontSize": 7, "labelColor": "#6f7480", "labelFont": "Roboto", "columnPadding": 20, "labelOffset": 3, "padding": 0,
                "labelLimit": 400,
                "encode": {"symbols": {"update": {"fill": {"scale": "color", "field": "value"}, "fillOpacity": {"value": 1}}}}
              }
            }
          }
        },
        {
          "transform": [{"filter": "time(datum.d) === utc(2021, 6, 4)"}],
          "mark": {"type": "point", "shape": "M-1,-0.42L1,-0.42L1,0.42L-1,0.42Z", "size": 324, "filled": true, "opacity": 1, "color": "#e27fec", "xOffset": 23},
          "encoding": {"y": {"field": "a", "type": "quantitative", "title": null, "scale": {"domain": [638.7, 687.7], "nice": false, "zero": false}}}
        },
        {
          "transform": [{"filter": "time(datum.d) === utc(2021, 6, 4)"}, {"calculate": "format(datum.a, '.0f') + 'K'", "as": "lab"}],
          "mark": {"type": "text", "dx": 23, "color": "#ffffff", "fontSize": 6, "fontWeight": "bold", "font": "Roboto", "align": "center", "baseline": "middle"},
          "encoding": {"y": {"field": "a", "type": "quantitative", "title": null, "scale": {"domain": [638.7, 687.7], "nice": false, "zero": false}}, "text": {"field": "lab"}}
        }
      ]
    },
    {
      "layer": [
        {
          "mark": {"type": "line", "interpolate": "step-after", "strokeWidth": 1.1, "clip": true},
          "encoding": {
            "y": {"field": "b", "type": "quantitative", "title": null,
              "scale": {"domain": [16.348, 19.108], "nice": false, "zero": false},
              "axis": {"orient": "right", "offset": 33, "values": [16.348, 16.693, 17.038, 17.383, 17.728, 18.073, 18.418, 18.763, 19.108], "labelExpr": "format(datum.value, '.2f') + 'M'", "domainColor": "#f0b4b4", "labelPadding": 5}},
            "color": {"datum": "[0.001 - 0.01), [0.01 - 0.1), [0.1 - 1), [1 - 10) coins (BTC)"}
          }
        },
        {
          "transform": [{"filter": "time(datum.d) === utc(2021, 6, 4)"}],
          "mark": {"type": "point", "shape": "M-1,-0.33L1,-0.33L1,0.33L-1,0.33Z", "size": 441, "filled": true, "opacity": 1, "color": "#ea5a5a", "xOffset": 55},
          "encoding": {"y": {"field": "b", "type": "quantitative", "title": null, "scale": {"domain": [16.348, 19.108], "nice": false, "zero": false}}}
        },
        {
          "transform": [{"filter": "time(datum.d) === utc(2021, 6, 4)"}, {"calculate": "format(datum.b, '.2f') + 'M'", "as": "lab"}],
          "mark": {"type": "text", "dx": 55, "color": "#ffffff", "fontSize": 6, "fontWeight": "bold", "font": "Roboto", "align": "center", "baseline": "middle"},
          "encoding": {"y": {"field": "b", "type": "quantitative", "title": null, "scale": {"domain": [16.348, 19.108], "nice": false, "zero": false}}, "text": {"field": "lab"}}
        }
      ]
    },
    {
      "layer": [
        {
          "mark": {"type": "line", "interpolate": "step-after", "strokeWidth": 1.1, "clip": true},
          "encoding": {
            "y": {"field": "c", "type": "quantitative", "title": null,
              "scale": {"domain": [128.35, 137.15], "nice": false, "zero": false},
              "axis": {"orient": "right", "offset": 62, "values": [128.35, 129.45, 130.55, 131.65, 132.75, 133.85, 134.95, 136.05, 137.15], "labelExpr": "format(datum.value, '.0f') + 'K'", "domainColor": "#f7e2b0", "labelPadding": 5}},
            "color": {"datum": "[10 - 100) coins (BTC)"}
          }
        },
        {
          "transform": [{"filter": "time(datum.d) === utc(2021, 6, 4)"}],
          "mark": {"type": "point", "shape": "M-1,-0.41L1,-0.41L1,0.41L-1,0.41Z", "size": 289, "filled": true, "opacity": 1, "color": "#f7c948", "xOffset": 80},
          "encoding": {"y": {"field": "c", "type": "quantitative", "title": null, "scale": {"domain": [128.35, 137.15], "nice": false, "zero": false}}}
        },
        {
          "transform": [{"filter": "time(datum.d) === utc(2021, 6, 4)"}, {"calculate": "format(datum.c, '.0f') + 'K'", "as": "lab"}],
          "mark": {"type": "text", "dx": 80, "color": "#4a3a10", "fontSize": 6, "fontWeight": "bold", "font": "Roboto", "align": "center", "baseline": "middle"},
          "encoding": {"y": {"field": "c", "type": "quantitative", "title": null, "scale": {"domain": [128.35, 137.15], "nice": false, "zero": false}}, "text": {"field": "lab"}}
        }
      ]
    },
    {
      "mark": {"type": "line", "interpolate": "step-after", "strokeWidth": 1.1, "clip": true},
      "encoding": {
        "y": {"field": "e", "type": "quantitative", "title": null, "scale": {"domain": [13500, 14146], "nice": false, "zero": false}, "axis": null},
        "color": {"datum": "[100 - 1,000) coins (BTC)"}
      }
    },
    {
      "mark": {"type": "line", "interpolate": "step-after", "strokeWidth": 1.1, "clip": true},
      "encoding": {
        "y": {"field": "f", "type": "quantitative", "title": null, "scale": {"domain": [2000, 2323], "nice": false, "zero": false}, "axis": null},
        "color": {"datum": "[1,000 - 10,000) coins (BTC)"}
      }
    },
    {
      "data": {"name": "price"},
      "mark": {"type": "line", "interpolate": "linear", "strokeWidth": 1.1, "clip": true},
      "encoding": {
        "y": {"field": "p", "type": "quantitative", "title": null, "scale": {"domain": [28000, 63530], "nice": false, "zero": false}, "axis": null},
        "color": {"datum": "Price (BTC)"}
      }
    }
  ],
  "resolve": {"scale": {"y": "independent"}}
}
